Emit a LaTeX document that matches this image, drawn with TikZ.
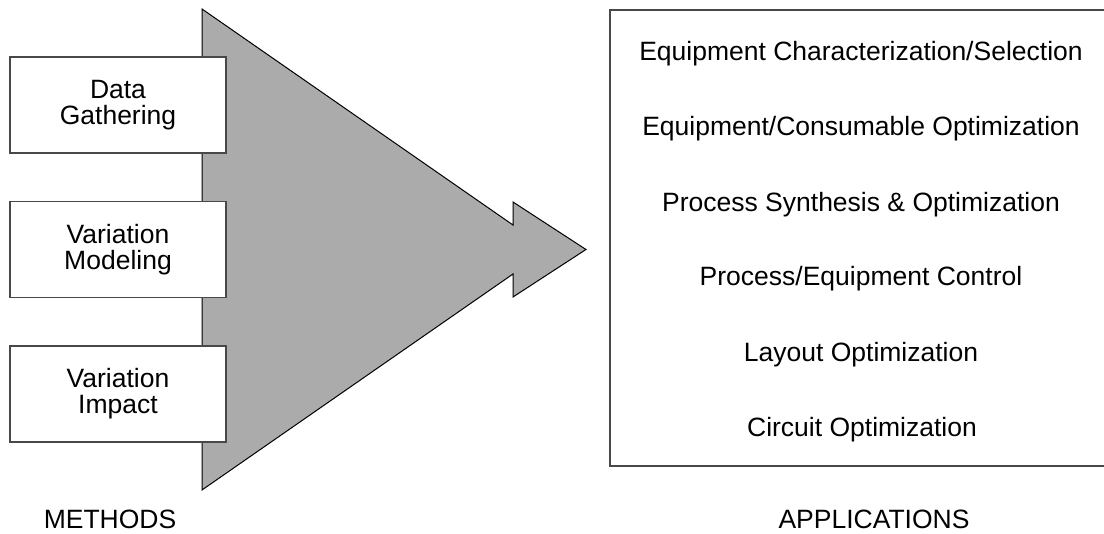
\documentclass[tikz,border=0pt]{standalone}
\usepackage{fontspec}
\setmainfont{Liberation Sans}
\definecolor{arrowgray}{HTML}{ABABAB}
\definecolor{edgegray}{HTML}{484848}
\tikzset{
  methodbox/.style={draw=edgegray, line width=1.5pt, fill=white,
    minimum width=216pt, minimum height=96pt, align=center, inner sep=0pt,
    font=\fontsize{26.5}{26}\selectfont},
  appitem/.style={anchor=base, inner sep=0pt, font=\fontsize{26.5}{27}\selectfont},
  caption/.style={anchor=base, inner sep=0pt, font=\fontsize{26.5}{27}\selectfont},
  bigarrow/.style={fill=arrowgray, draw=black, line width=1pt, line join=miter}
}
\begin{document}
\begin{tikzpicture}[x=1pt,y=-1pt]
\useasboundingbox (0,0) rectangle (1104,534);
\clip (0,0) rectangle (1104,534);

% broad arrow carrying methods into applications
\draw[bigarrow] (202,9) -- (513,225) -- (513,202) -- (586,249.5)
  -- (513,297) -- (513,274) -- (202,490) -- cycle;

% method boxes
\node[methodbox] (data) at (118,105) {Data\\Gathering};
\node[methodbox] (model) at (118,249.5) {Variation\\Modeling};
\node[methodbox] (impact) at (118,394) {Variation\\Impact};

% applications panel, running off the right edge
\node[draw=edgegray, line width=1.5pt, minimum width=512pt, minimum height=456pt,
  inner sep=0pt] (apps) at (866,238) {};

\node[appitem] (a1) at (861,61) {Equipment Characterization/Selection};
\node[appitem] (a2) at (861,136) {Equipment/Consumable Optimization};
\node[appitem] (a3) at (861,212) {Process Synthesis \& Optimization};
\node[appitem] (a4) at (861,286) {Process/Equipment Control};
\node[appitem] (a5) at (861,362) {Layout Optimization};
\node[appitem] (a6) at (862,437) {Circuit Optimization};

\node[caption] (methods) at (110,528.5) {METHODS};
\node[caption] (applications) at (874,528.5) {APPLICATIONS};
\end{tikzpicture}
\end{document}
